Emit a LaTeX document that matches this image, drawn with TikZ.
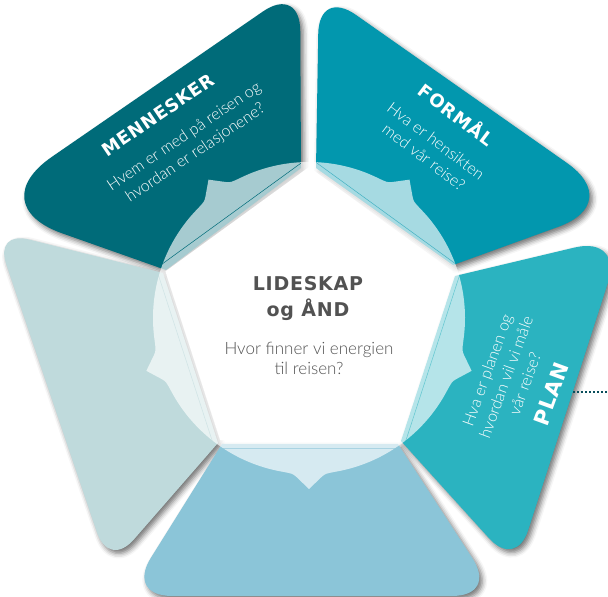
\documentclass[tikz,border=0pt]{standalone}
\usepackage{fontspec}
\setmainfont{Lato}
\newfontfamily\lightfont{Lato Light}
\newfontfamily\blackfont{DejaVu Sans}[BoldFont={* Bold}, LetterSpace=4]
\usetikzlibrary{calc,shadows.blur}
\definecolor{cM}{HTML}{006B79}
\definecolor{cF}{HTML}{0297AE}
\definecolor{cP}{HTML}{2BB3C0}
\definecolor{cB}{HTML}{8BC5D8}
\definecolor{cL}{HTML}{BFDADC}
\definecolor{txtgray}{HTML}{525252}
\definecolor{dotc}{HTML}{0A4F5C}
% rounded corner: prev, apex, next, inset
\newcommand\rc[4]{-- ($(#2)!#4pt!(#1)$) .. controls ($(#2)!0.42*#4pt!(#1)$) and ($(#2)!0.42*#4pt!(#3)$) .. ($(#2)!#4pt!(#3)$)}
\newcommand\spike[1]{ .. controls ($(C)+(#1-6:156.5)$) .. ($(C)+(#1-4.5:159.5)$) -- ($(C)+(#1:171)$) -- ($(C)+(#1+4.5:159.5)$) .. controls ($(C)+(#1+6:156.5)$) .. ($(C)+(#1+10:156)$) arc[start angle=#1+10, end angle=#1+62, radius=156]}
\def\pathM{(mA) -- (mB) \rc{mB}{mT}{mL}{45} \rc{mT}{mL}{mA}{85} -- cycle}
\def\pathF{(fA) -- (fB) \rc{fB}{fT}{fR}{45} \rc{fT}{fR}{fA}{70} -- cycle}
\def\pathP{(pB) -- (pA) \rc{pA}{pT}{pBt}{50} \rc{pT}{pBt}{pB}{40} -- cycle}
\def\pathB{(bA) -- (bB) \rc{bB}{bR}{bL}{45} \rc{bR}{bL}{bA}{45} -- cycle}
\def\pathL{(lB) -- (lA) \rc{lA}{lT}{lBt}{35} \rc{lT}{lBt}{lB}{38} -- cycle}
\tikzset{
  shad/.style={blur shadow={shadow xshift=3pt, shadow yshift=-3.5pt, shadow blur radius=5pt, shadow opacity=55}},
  fold/.style={line width=0.5pt},
  title/.style={text=white, font=\blackfont\bfseries\fontsize{18}{20}\selectfont, inner sep=0pt},
  question/.style={text=white, align=center, font=\lightfont\fontsize{16}{20}\selectfont, inner sep=0pt},
}
\begin{document}
\begin{tikzpicture}[x=1pt,y=1pt]
\useasboundingbox (0,0) rectangle (608,597);
\clip (0,0) rectangle (608,597);
\coordinate (C) at (309,279);
% piece corners
\coordinate (mA) at (166,327); \coordinate (mB) at (301,429); \coordinate (mT) at (300,611); \coordinate (mL) at (-18,392);
\coordinate (fA) at (453,332); \coordinate (fB) at (316,429); \coordinate (fT) at (319,608); \coordinate (fR) at (624,394);
\coordinate (pA) at (455,321); \coordinate (pB) at (401,156); \coordinate (pT) at (623,361); \coordinate (pBt) at (516,29);
\coordinate (bA) at (222,153); \coordinate (bB) at (398,153); \coordinate (bR) at (497,1); \coordinate (bL) at (127,1);
\coordinate (lA) at (163,324); \coordinate (lB) at (218,154); \coordinate (lT) at (-5,366); \coordinate (lBt) at (109,29);
% shadows
\path[shad] \pathM; \path[shad] \pathF; \path[shad] \pathP; \path[shad] \pathB; \path[shad] \pathL;
% pieces
\fill[cM] \pathM; \fill[cF] \pathF; \fill[cP] \pathP; \fill[cB] \pathB; \fill[cL] \pathL;
% light overlay
\fill[white, opacity=0.65] ($(C)+(-100:156)$) \spike{-90} \spike{-18} \spike{54} \spike{126} \spike{198} -- cycle;
% fold lines
\begin{scope}\clip \pathM; \draw[fold, cM] ($(C)+(126:130)+(36:160)$) -- ($(C)+(126:130)+(216:160)$); \end{scope}
\begin{scope}\clip \pathF; \draw[fold, cF, opacity=.6] ($(C)+(54:130)+(144:160)$) -- ($(C)+(54:130)+(-36:160)$); \end{scope}
\begin{scope}\clip \pathP; \draw[fold, cP, opacity=.6] ($(C)+(-18:130)+(72:160)$) -- ($(C)+(-18:130)+(252:160)$); \end{scope}
\begin{scope}\clip \pathB; \draw[fold, cB, opacity=.6] ($(C)+(-90:130)+(0:160)$) -- ($(C)+(-90:130)+(180:160)$); \end{scope}
\begin{scope}\clip \pathL; \draw[fold, cL, opacity=.6] ($(C)+(198:130)+(108:160)$) -- ($(C)+(198:130)+(288:160)$); \end{scope}
% centre pentagon
\fill[white] ($(C)+(90:151)$) -- ($(C)+(18:151)$) -- ($(C)+(-54:151)$) -- ($(C)+(-126:151)$) -- ($(C)+(162:151)$) -- cycle;
% texts
\node[title, rotate=34] (tM) at (158,482) {MENNESKER};
\node[question, rotate=34] (qM) at (190,452) {Hvem er med på reisen og\\hvordan er relasjonene?};
\node[title, rotate=-37] (tF) at (457,483) {FORMÅL};
\node[question, rotate=-37] (qF) at (430,448) {Hva er hensikten\\med vår reise?};
\node[question, rotate=70] (qP) at (506,220) {Hva er planen og\\hvordan vil vi måle\\vår reise?};
\node[title, rotate=70, font=\blackfont\bfseries\fontsize{21}{22}\selectfont] (tP) at (551,203) {PLAN};
\node[text=txtgray, align=center, font=\blackfont\bfseries\fontsize{19}{26}\selectfont, inner sep=0pt] (tC) at (308,298) {LIDESKAP\\og ÅND};
\node[text=txtgray, align=center, font=\lightfont\fontsize{17}{20}\selectfont, inner sep=0pt] (qC) at (309,239) {Hvor finner vi energien\\til reisen?};
% dotted connector
\coordinate (dS) at (573,205); \coordinate (dE) at (612,205);
\draw[dotc, line width=2pt, dash pattern=on 2pt off 2pt] (dS) -- (dE);
\end{tikzpicture}
\end{document}
